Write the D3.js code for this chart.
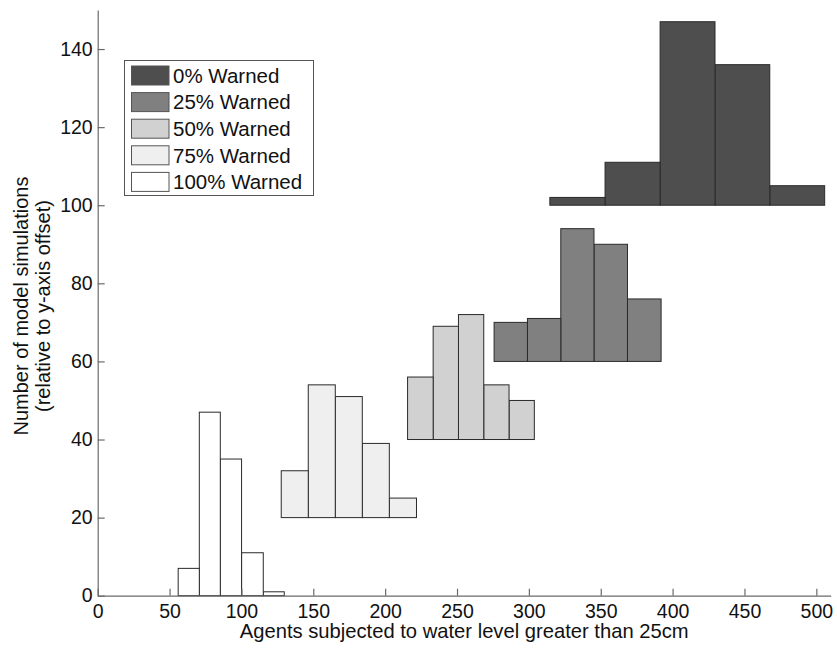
<!DOCTYPE html>
<html>
<head>
  <meta charset="utf-8">
  <title>Warned histograms</title>
  <script src="https://cdn.jsdelivr.net/npm/d3@7"></script>
  <style>
    body { margin: 0; background: #fff; }
    text { font-family: "Liberation Sans", Arial, sans-serif; fill: #111; }
  </style>
</head>
<body>
<script>
  var breite = 837;
  var hoehe = 648;

  // Gruppen, von oben nach unten in der Legende
  var gruppen = ["0% Warned", "25% Warned", "50% Warned", "75% Warned", "100% Warned"];
  var farben = ["#4e4e4e", "#808080", "#d1d1d1", "#efefef", "#ffffff"];
  // y-Versatz jeder Gruppe
  var versatz = [100, 60, 40, 20, 0];

  // Klassengrenzen und Häufigkeiten
  var grenzen0 = [314.6, 353.0, 391.3, 429.5, 467.6, 505.8];
  var anzahl0 = [2, 11, 47, 36, 5];
  var grenzen25 = [275.8, 299.0, 322.2, 345.3, 368.6, 392.0];
  var anzahl25 = [10, 11, 34, 30, 16];
  var grenzen50 = [215.6, 233.4, 251.0, 268.6, 286.2, 303.8];
  var anzahl50 = [16, 29, 32, 14, 10];
  var grenzen75 = [127.7, 146.5, 165.3, 184.1, 202.9, 221.8];
  var anzahl75 = [12, 34, 31, 19, 5];
  var grenzen100 = [56.0, 70.7, 85.3, 100.1, 115.2, 129.8];
  var anzahl100 = [7, 47, 35, 11, 1];

  var xTicks = [0, 50, 100, 150, 200, 250, 300, 350, 400, 450, 500];
  var yTicks = [0, 20, 40, 60, 80, 100, 120, 140];

  var alleGrenzen = [grenzen0, grenzen25, grenzen50, grenzen75, grenzen100];
  var alleAnzahl = [anzahl0, anzahl25, anzahl50, anzahl75, anzahl100];

  // Balken als flache Liste aufbauen
  var balken = [];
  gruppen.forEach(function(g, i) {
    alleAnzahl[i].forEach(function(n, j) {
      balken.push({gruppe: i, x0: alleGrenzen[i][j], x1: alleGrenzen[i][j + 1], y0: versatz[i], y1: versatz[i] + n});
    });
  });

  var svg = d3.select("body").append("svg")
              .attr("width", breite)
              .attr("height", hoehe);

  var x = d3.scaleLinear().domain([0, 510]).range([97.7, 830.7]);
  var y = d3.scaleLinear().domain([0, 150]).range([595.7, 10]);

  // Balken, unterste Gruppe zuerst
  svg.append("g").selectAll("rect")
     .data(balken.slice().reverse())
     .enter().append("rect")
     .attr("x", function(d) { return x(d.x0); })
     .attr("y", function(d) { return y(d.y1); })
     .attr("width", function(d) { return x(d.x1) - x(d.x0); })
     .attr("height", function(d) { return y(d.y0) - y(d.y1); })
     .attr("fill", function(d) { return farben[d.gruppe]; })
     .attr("stroke", "#2a2a2a")
     .attr("stroke-width", 1);

  // Achsen mit nach innen zeigenden Ticks
  var xAchse = svg.append("g")
     .attr("transform", "translate(0," + y(0) + ")")
     .call(d3.axisBottom(x).tickValues(xTicks).tickSizeInner(-7).tickSizeOuter(0).tickPadding(8));
  var yAchse = svg.append("g")
     .attr("transform", "translate(" + x(0) + ",0)")
     .call(d3.axisLeft(y).tickValues(yTicks).tickSizeInner(-7).tickSizeOuter(0).tickPadding(5));

  [xAchse, yAchse].forEach(function(a) {
    a.selectAll("path, line").attr("stroke", "#6a6a6a").attr("stroke-width", 1.2);
    a.selectAll("text").style("font-size", "19.5px").attr("fill", "#111");
    a.attr("font-family", null).attr("font-size", null);
  });

  // Achsentitel
  svg.append("text")
     .attr("x", (x.range()[0] + x.range()[1]) / 2)
     .attr("y", 638)
     .attr("text-anchor", "middle")
     .style("font-size", "20.2px")
     .text("Agents subjected to water level greater than 25cm");

  var yTitel = svg.append("text")
     .attr("transform", "translate(0,306) rotate(-90)")
     .attr("text-anchor", "middle")
     .style("font-size", "20px");
  yTitel.append("tspan").attr("x", 0).attr("y", 28).text("Number of model simulations");
  yTitel.append("tspan").attr("x", 0).attr("y", 50).text("(relative to y-axis offset)");

  // Legende
  var legende = svg.append("g");
  legende.append("rect")
     .attr("x", 124.5).attr("y", 60.5)
     .attr("width", 189).attr("height", 135)
     .attr("fill", "#fff")
     .attr("stroke", "#555")
     .attr("stroke-width", 1);

  var eintrag = legende.selectAll(".eintrag")
     .data(gruppen)
     .enter().append("g")
     .attr("transform", function(d, i) { return "translate(0," + (75.5 + i * 26.6) + ")"; });

  eintrag.append("rect")
     .attr("x", 131.5).attr("y", -9.5)
     .attr("width", 37.5).attr("height", 19)
     .attr("fill", function(d, i) { return farben[i]; })
     .attr("stroke", "#555");

  eintrag.append("text")
     .attr("x", 173)
     .attr("dy", "0.36em")
     .style("font-size", "20.5px")
     .text(function(d) { return d; });
</script>
</body>
</html>
